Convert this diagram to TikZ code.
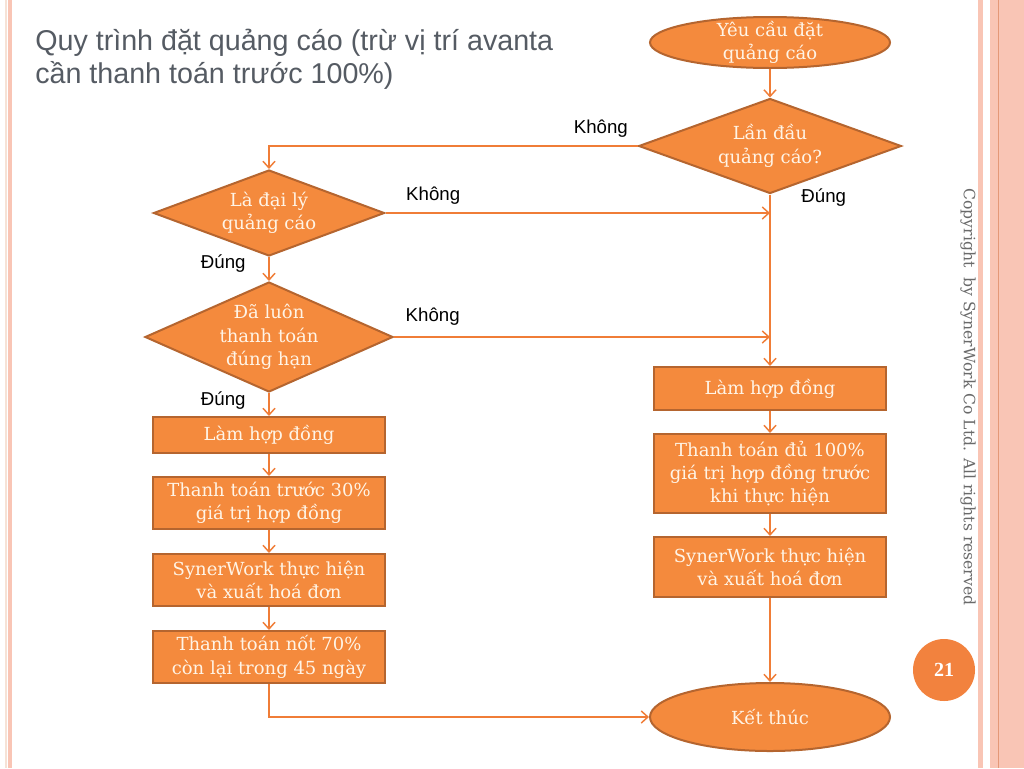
\documentclass[tikz,border=0pt]{standalone}
\usepackage{tikz}
\usepackage{xcolor}
\usepackage{fontspec}
\setmainfont{DejaVu Serif}
\setsansfont{Liberation Sans}
\newfontfamily\pagefont{Liberation Serif}
\usetikzlibrary{shapes.geometric, arrows.meta, positioning, calc}
\definecolor{flowfill}{HTML}{F48A3D}
\definecolor{flowedge}{HTML}{B5652F}
\definecolor{flowtext}{HTML}{FFF4E6}
\definecolor{flowline}{HTML}{F07D37}
\definecolor{pageorange}{HTML}{F2823E}
\definecolor{titlegray}{HTML}{555B63}
\definecolor{notegray}{HTML}{6A6A6A}
\definecolor{stripepink}{HTML}{F9C5B5}
\definecolor{stripepale}{HTML}{F6E2D6}
\definecolor{stripeline}{HTML}{E49878}
\tikzstyle{terminal} = [ellipse, minimum width=180pt, inner xsep=0pt, inner ysep=-4pt, align=center, draw=flowedge, line width=1.5pt, fill=flowfill, text=flowtext, font=\fontsize{13.5}{17.5}\selectfont]
\tikzstyle{decision} = [diamond, aspect=2.7, inner sep=-2pt, align=center, draw=flowedge, line width=1.5pt, fill=flowfill, text=flowtext, font=\fontsize{13.5}{17.5}\selectfont]
\tikzstyle{process} = [rectangle, minimum width=174pt, inner sep=0pt, align=center, draw=flowedge, line width=1.5pt, fill=flowfill, text=flowtext, font=\fontsize{13.5}{17.5}\selectfont]
\tikzstyle{arrow} = [line width=1.1pt, draw=flowline, ->, >={Straight Barb[length=5pt,width=9pt]}]
\tikzstyle{answer} = [inner sep=2pt, font=\sffamily\fontsize{14}{16}\selectfont]

\begin{document}
\begin{tikzpicture}[x=0.75pt, y=-0.75pt, node distance=57.75pt]
    % slide and side stripes
    \useasboundingbox (0,0) rectangle (1024,768);
    \fill[white] (0,0) rectangle (1024,768);
    \fill[stripepale] (5,0) rectangle (7,768);
    \fill[stripepink] (7.5,0) rectangle (12,768);
    \fill[stripepink] (978,0) rectangle (983,768);
    \fill[stripepink] (990,0) rectangle (1024,768);
    \draw[stripeline, line width=0.8pt] (998.5,0) -- (998.5,768);

    \node (title) [anchor=base west, inner sep=0pt, align=left, text=titlegray, font=\sffamily\fontsize{21.5}{24.5}\selectfont] at (35,83.5) {Quy trình đặt quảng cáo (trừ vị trí avanta\\cần thanh toán trước 100\%)};

    % right column
    \node (start) [terminal, minimum height=38.25pt] at (770,42.5) {Yêu cầu đặt\\quảng cáo};
    \node (first) [decision, aspect=2.77, minimum width=197pt, minimum height=71.25pt, below of=start, yshift=-19.875pt] {Lần đầu\\quảng cáo?};
    \node (rcontract) [process, minimum height=32.25pt, below of=first, yshift=-124.125pt] {Làm hợp đồng};
    \node (rpay) [process, minimum height=59.25pt, below of=rcontract, yshift=-6pt] {Thanh toán đủ 100\%\\giá trị hợp đồng trước\\khi thực hiện};
    \node (rwork) [process, minimum height=45pt, below of=rpay, yshift=-12.375pt] {SynerWork thực hiện\\và xuất hoá đơn};
    \node (finish) [terminal, minimum height=51pt, below of=rwork, yshift=-54.75pt] {Kết thúc};

    % left column
    \node (agency) [decision, minimum width=173.25pt, minimum height=64.5pt] at (269,213) {Là đại lý\\quảng cáo};
    \node (ontime) [decision, aspect=2.25, minimum width=186pt, minimum height=82.5pt, below of=agency, yshift=-35.25pt] {Đã luôn\\thanh toán\\đúng hạn};
    \node (lcontract) [process, minimum height=27pt, below of=ontime, yshift=-15.75pt] {Làm hợp đồng};
    \node (lpay) [process, minimum height=39pt, below of=lcontract, yshift=6.75pt] {Thanh toán trước 30\%\\giá trị hợp đồng};
    \node (lwork) [process, minimum height=39pt, below of=lpay] {SynerWork thực hiện\\và xuất hoá đơn};
    \node (lrest) [process, minimum height=39pt, below of=lwork] {Thanh toán nốt 70\%\\còn lại trong 45 ngày};

    \node (rights) [rotate=-90, text=notegray, font=\fontsize{11.7}{13}\selectfont] at (968,397) {Copyright\ \ by SynerWork Co Ltd. All rights reserved};
    \node (pagenum) [circle, fill=pageorange, minimum size=46.5pt, inner sep=0pt, text=white, font=\pagefont\bfseries\fontsize{15}{16}\selectfont] at (944,670) {21};

    \coordinate (agencyin) at (agency.east -| first.south);
    \coordinate (ontimein) at (ontime.east -| first.south);

    \draw [arrow] (start) -- (first);
    \draw [arrow] (first.west) -| node[answer, pos=0.05, above=4pt] {Không} (agency.north);
    \draw [arrow] (first) -- node[answer, pos=0.02, right=21pt] {Đúng} (rcontract);
    \draw [arrow] (agency.east) -- node[answer, pos=0.124, above=4pt] {Không} (agencyin);
    \draw [arrow] (ontime.east) -- node[answer, pos=0.103, above=6pt] {Không} (ontimein);
    \draw [arrow] (agency) -- node[answer, pos=0.29, left=15pt] {Đúng} (ontime);
    \draw [arrow] (ontime) -- node[answer, pos=0.34, left=15pt] {Đúng} (lcontract);
    \draw [arrow] (lcontract) -- (lpay);
    \draw [arrow] (lpay) -- (lwork);
    \draw [arrow] (lwork) -- (lrest);
    \draw [arrow] (lrest.south) |- (finish.west);
    \draw [arrow] (rcontract) -- (rpay);
    \draw [arrow] (rpay) -- (rwork);
    \draw [arrow] (rwork) -- (finish);
\end{tikzpicture}
\end{document}
